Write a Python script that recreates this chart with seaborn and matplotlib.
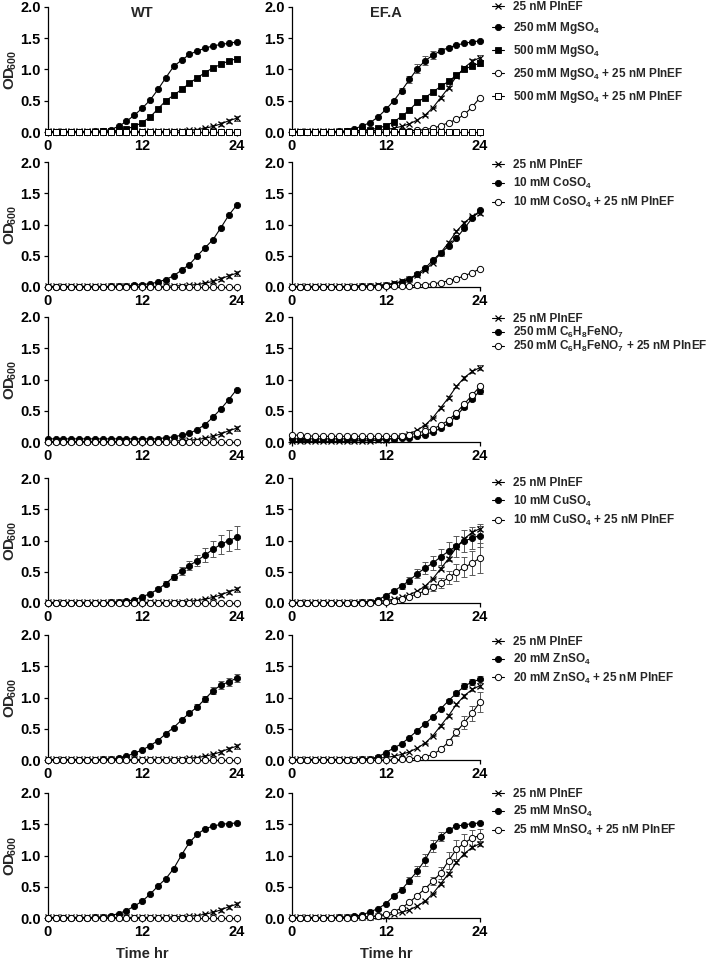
import numpy as np
import matplotlib
matplotlib.use('Agg')
import matplotlib.pyplot as plt
import seaborn as sns

# %%
# time points (hours)
time = [0, 1, 2, 3, 4, 5, 6, 7, 8, 9,
        10, 11, 12, 13, 14, 15, 16, 17, 18, 19,
        20, 21, 22, 23, 24]

# 25 nM PlnEF alone (same control in every row)
wt_plnef = [0.01, 0.01, 0.01, 0.01, 0.01, 0.01, 0.01, 0.01, 0.01, 0.01,
            0.01, 0.01, 0.01, 0.01, 0.01, 0.01, 0.02, 0.02, 0.03, 0.04,
            0.06, 0.09, 0.13, 0.18, 0.22]
wt_plnef_err = [0, 0, 0, 0, 0, 0, 0, 0, 0, 0,
                0, 0, 0, 0, 0, 0, 0, 0, 0.01, 0.01,
                0.02, 0.02, 0.03, 0.03, 0.04]
efa_plnef = [0.01, 0.01, 0.01, 0.01, 0.01, 0.01, 0.01, 0.01, 0.02, 0.02,
             0.02, 0.03, 0.04, 0.06, 0.09, 0.13, 0.19, 0.27, 0.39, 0.55,
             0.71, 0.89, 1.03, 1.13, 1.19]
efa_plnef_err = [0, 0, 0, 0, 0, 0, 0, 0, 0, 0,
                 0, 0, 0, 0, 0, 0, 0, 0.01, 0.01, 0.02,
                 0.02, 0.03, 0.03, 0.03, 0.04]

# row 1 - MgSO4
wt_mg250 = [0.00, 0.00, 0.00, 0.00, 0.00, 0.00, 0.01, 0.02, 0.04, 0.09,
            0.17, 0.27, 0.38, 0.51, 0.68, 0.87, 1.05, 1.15, 1.24, 1.30,
            1.34, 1.38, 1.40, 1.42, 1.44]
wt_mg500 = [0.00, 0.00, 0.00, 0.00, 0.00, 0.00, 0.00, 0.01, 0.02, 0.03,
            0.05, 0.09, 0.15, 0.24, 0.37, 0.50, 0.59, 0.68, 0.78, 0.87,
            0.95, 1.03, 1.08, 1.14, 1.17]
wt_mg250_pln = [0.00, 0.00, 0.00, 0.00, 0.00, 0.00, 0.00, 0.00, 0.00, 0.00,
                0.00, 0.00, 0.00, 0.00, 0.00, 0.00, 0.00, 0.00, 0.00, 0.00,
                0.00, 0.00, 0.00, 0.00, 0.00]
wt_mg500_pln = [0.00, 0.00, 0.00, 0.00, 0.00, 0.00, 0.00, 0.00, 0.00, 0.00,
                0.00, 0.00, 0.00, 0.00, 0.00, 0.00, 0.00, 0.00, 0.00, 0.00,
                0.00, 0.00, 0.00, 0.00, 0.00]
efa_mg250 = [0.00, 0.00, 0.00, 0.00, 0.00, 0.00, 0.01, 0.02, 0.05, 0.10,
             0.15, 0.24, 0.36, 0.50, 0.66, 0.84, 1.01, 1.14, 1.23, 1.30,
             1.35, 1.39, 1.42, 1.44, 1.46]
efa_mg250_err = [0, 0, 0, 0, 0, 0, 0, 0, 0, 0,
                 0, 0, 0.02, 0.03, 0.04, 0.05, 0.07, 0.07, 0.06, 0.04,
                 0.03, 0.02, 0.01, 0.01, 0.01]
efa_mg500 = [0.00, 0.00, 0.00, 0.00, 0.00, 0.00, 0.00, 0.01, 0.02, 0.03,
             0.04, 0.06, 0.10, 0.16, 0.25, 0.35, 0.48, 0.55, 0.64, 0.73,
             0.81, 0.91, 1.00, 1.06, 1.10]
efa_mg500_err = [0, 0, 0, 0, 0, 0, 0, 0, 0, 0,
                 0, 0, 0, 0, 0, 0, 0, 0, 0, 0,
                 0, 0.02, 0.03, 0.04, 0.05]
efa_mg250_pln = [0.00, 0.00, 0.00, 0.00, 0.00, 0.00, 0.00, 0.00, 0.00, 0.00,
                 0.00, 0.00, 0.00, 0.00, 0.01, 0.02, 0.03, 0.04, 0.06, 0.10,
                 0.15, 0.20, 0.28, 0.40, 0.55]
efa_mg500_pln = [0.00, 0.00, 0.00, 0.00, 0.00, 0.00, 0.00, 0.00, 0.00, 0.00,
                 0.00, 0.00, 0.00, 0.00, 0.00, 0.00, 0.00, 0.00, 0.00, 0.00,
                 0.00, 0.00, 0.00, 0.00, 0.00]

# row 2 - CoSO4
wt_co = [0.00, 0.00, 0.00, 0.00, 0.00, 0.00, 0.00, 0.00, 0.01, 0.01,
         0.02, 0.03, 0.04, 0.05, 0.08, 0.12, 0.18, 0.27, 0.36, 0.50,
         0.63, 0.76, 0.95, 1.15, 1.31]
wt_co_pln = [0.00, 0.00, 0.00, 0.00, 0.00, 0.00, 0.00, 0.00, 0.00, 0.00,
             0.00, 0.00, 0.00, 0.00, 0.00, 0.00, 0.00, 0.00, 0.00, 0.00,
             0.00, 0.00, 0.00, 0.00, 0.00]
efa_co = [0.00, 0.00, 0.00, 0.00, 0.00, 0.00, 0.00, 0.00, 0.00, 0.01,
          0.01, 0.02, 0.03, 0.05, 0.08, 0.13, 0.21, 0.30, 0.43, 0.55,
          0.65, 0.78, 0.94, 1.10, 1.23]
efa_co_pln = [0.00, 0.00, 0.00, 0.00, 0.00, 0.00, 0.00, 0.00, 0.00, 0.00,
              0.00, 0.00, 0.01, 0.01, 0.02, 0.02, 0.03, 0.04, 0.05, 0.07,
              0.10, 0.13, 0.18, 0.23, 0.29]

# row 3 - ferric ammonium citrate
wt_fe = [0.05, 0.05, 0.05, 0.05, 0.05, 0.05, 0.05, 0.05, 0.05, 0.05,
         0.05, 0.05, 0.05, 0.05, 0.05, 0.07, 0.08, 0.11, 0.14, 0.20,
         0.28, 0.40, 0.53, 0.68, 0.84]
wt_fe_pln = [0.00, 0.00, 0.00, 0.00, 0.00, 0.00, 0.00, 0.00, 0.00, 0.00,
             0.00, 0.00, 0.00, 0.00, 0.00, 0.00, 0.00, 0.00, 0.00, 0.00,
             0.00, 0.00, 0.00, 0.00, 0.00]
efa_fe = [0.05, 0.05, 0.05, 0.05, 0.05, 0.05, 0.05, 0.05, 0.05, 0.05,
          0.05, 0.05, 0.05, 0.05, 0.06, 0.07, 0.09, 0.12, 0.16, 0.22,
          0.30, 0.42, 0.56, 0.69, 0.82]
efa_fe_err = [0, 0, 0, 0, 0, 0, 0, 0, 0, 0,
              0, 0, 0, 0, 0, 0, 0, 0, 0, 0,
              0.02, 0.03, 0.03, 0.04, 0.05]
efa_fe_pln = [0.11, 0.11, 0.10, 0.09, 0.09, 0.09, 0.09, 0.09, 0.09, 0.09,
              0.09, 0.09, 0.09, 0.09, 0.10, 0.12, 0.14, 0.18, 0.21, 0.27,
              0.35, 0.47, 0.61, 0.75, 0.89]
efa_fe_pln_err = [0, 0, 0, 0, 0, 0, 0, 0, 0, 0,
                  0, 0, 0, 0, 0, 0, 0, 0, 0, 0,
                  0, 0, 0.02, 0.03, 0.03]

# row 4 - CuSO4
wt_cu = [0.00, 0.00, 0.00, 0.00, 0.00, 0.00, 0.00, 0.00, 0.01, 0.02,
         0.03, 0.05, 0.10, 0.15, 0.22, 0.31, 0.42, 0.51, 0.60, 0.68,
         0.77, 0.86, 0.94, 1.00, 1.05]
wt_cu_err = [0, 0, 0, 0, 0, 0, 0, 0, 0, 0,
             0, 0, 0.01, 0.02, 0.03, 0.04, 0.05, 0.06, 0.07, 0.09,
             0.11, 0.13, 0.15, 0.17, 0.18]
wt_cu_pln = [0.00, 0.00, 0.00, 0.00, 0.00, 0.00, 0.00, 0.00, 0.00, 0.00,
             0.00, 0.00, 0.00, 0.00, 0.00, 0.00, 0.00, 0.00, 0.00, 0.00,
             0.00, 0.00, 0.00, 0.00, 0.00]
efa_cu = [0.00, 0.00, 0.00, 0.00, 0.00, 0.00, 0.00, 0.00, 0.00, 0.01,
          0.02, 0.05, 0.12, 0.19, 0.27, 0.36, 0.47, 0.56, 0.64, 0.74,
          0.83, 0.91, 0.99, 1.04, 1.08]
efa_cu_err = [0, 0, 0, 0, 0, 0, 0, 0, 0, 0,
              0, 0, 0.02, 0.03, 0.04, 0.05, 0.07, 0.09, 0.11, 0.13,
              0.15, 0.17, 0.18, 0.18, 0.18]
efa_cu_pln = [0.00, 0.00, 0.00, 0.00, 0.00, 0.00, 0.00, 0.00, 0.00, 0.00,
              0.00, 0.01, 0.02, 0.04, 0.07, 0.10, 0.15, 0.19, 0.25, 0.32,
              0.41, 0.49, 0.57, 0.64, 0.72]
efa_cu_pln_err = [0, 0, 0, 0, 0, 0, 0, 0, 0, 0,
                  0, 0, 0, 0, 0, 0.02, 0.03, 0.04, 0.06, 0.08,
                  0.10, 0.13, 0.16, 0.19, 0.24]

# row 5 - ZnSO4
wt_zn = [0.00, 0.00, 0.00, 0.00, 0.00, 0.00, 0.00, 0.01, 0.02, 0.03,
         0.06, 0.11, 0.16, 0.23, 0.31, 0.42, 0.52, 0.64, 0.75, 0.85,
         0.98, 1.11, 1.20, 1.25, 1.31]
wt_zn_err = [0, 0, 0, 0, 0, 0, 0, 0, 0, 0,
             0, 0, 0, 0, 0, 0, 0, 0.01, 0.03, 0.04,
             0.05, 0.06, 0.06, 0.06, 0.06]
wt_zn_pln = [0.00, 0.00, 0.00, 0.00, 0.00, 0.00, 0.00, 0.00, 0.00, 0.00,
             0.00, 0.00, 0.00, 0.00, 0.00, 0.00, 0.00, 0.00, 0.00, 0.00,
             0.00, 0.00, 0.00, 0.00, 0.00]
efa_zn = [0.00, 0.00, 0.00, 0.00, 0.00, 0.00, 0.00, 0.00, 0.00, 0.01,
          0.02, 0.05, 0.12, 0.19, 0.26, 0.36, 0.47, 0.58, 0.69, 0.82,
          0.95, 1.07, 1.18, 1.25, 1.29]
efa_zn_err = [0, 0, 0, 0, 0, 0, 0, 0, 0, 0,
              0, 0, 0, 0, 0, 0, 0, 0, 0, 0.02,
              0.03, 0.04, 0.05, 0.05, 0.06]
efa_zn_pln = [0.00, 0.00, 0.00, 0.00, 0.00, 0.00, 0.00, 0.00, 0.00, 0.00,
              0.00, 0.00, 0.00, 0.00, 0.01, 0.02, 0.03, 0.05, 0.09, 0.17,
              0.29, 0.45, 0.60, 0.75, 0.93]
efa_zn_pln_err = [0, 0, 0, 0, 0, 0, 0, 0, 0, 0,
                  0, 0, 0, 0, 0, 0, 0, 0, 0.02, 0.03,
                  0.05, 0.07, 0.10, 0.12, 0.16]

# row 6 - MnSO4
wt_mn = [0.00, 0.00, 0.00, 0.00, 0.00, 0.00, 0.01, 0.02, 0.04, 0.07,
         0.12, 0.19, 0.27, 0.38, 0.51, 0.63, 0.79, 1.01, 1.21, 1.34,
         1.43, 1.47, 1.50, 1.51, 1.52]
wt_mn_pln = [0.00, 0.00, 0.00, 0.00, 0.00, 0.00, 0.00, 0.00, 0.00, 0.00,
             0.00, 0.00, 0.00, 0.00, 0.00, 0.00, 0.00, 0.00, 0.00, 0.00,
             0.00, 0.00, 0.00, 0.00, 0.00]
efa_mn = [0.00, 0.00, 0.00, 0.00, 0.00, 0.00, 0.01, 0.02, 0.03, 0.05,
          0.10, 0.15, 0.23, 0.35, 0.45, 0.60, 0.75, 0.93, 1.15, 1.30,
          1.41, 1.47, 1.49, 1.51, 1.52]
efa_mn_err = [0, 0, 0, 0, 0, 0, 0, 0, 0, 0,
              0, 0, 0, 0.03, 0.04, 0.06, 0.08, 0.10, 0.10, 0.07,
              0.03, 0.02, 0.01, 0.01, 0.01]
efa_mn_pln = [0.00, 0.00, 0.00, 0.00, 0.00, 0.00, 0.00, 0.00, 0.00, 0.01,
              0.02, 0.04, 0.06, 0.10, 0.16, 0.25, 0.36, 0.47, 0.59, 0.72,
              0.92, 1.10, 1.20, 1.28, 1.32]
efa_mn_pln_err = [0, 0, 0, 0, 0, 0, 0, 0, 0, 0,
                  0, 0, 0, 0, 0, 0, 0.03, 0.04, 0.06, 0.10,
                  0.14, 0.15, 0.14, 0.13, 0.11]

# legend labels
row1_labels = ['25 nM PlnEF', '250 mM MgSO$_4$', '500 mM MgSO$_4$',
               '250 mM MgSO$_4$ + 25 nM PlnEF', '500 mM MgSO$_4$ + 25 nM PlnEF']
row2_labels = ['25 nM PlnEF', '10 mM CoSO$_4$', '10 mM CoSO$_4$ + 25 nM PlnEF']
row3_labels = ['25 nM PlnEF', '250 mM C$_6$H$_8$FeNO$_7$',
               '250 mM C$_6$H$_8$FeNO$_7$ + 25 nM PlnEF']
row4_labels = ['25 nM PlnEF', '10 mM CuSO$_4$', '10 mM CuSO$_4$ + 25 nM PlnEF']
row5_labels = ['25 nM PlnEF', '20 mM ZnSO$_4$', '20 mM ZnSO$_4$ + 25 nM PlnEF']
row6_labels = ['25 nM PlnEF', '25 mM MnSO$_4$', '25 mM MnSO$_4$ + 25 nM PlnEF']

yticks = [0, 0.5, 1.0, 1.5, 2.0]
yticklabels = ['0.0', '0.5', '1.0', '1.5', '2.0']
xticks = [0, 12, 24]

# %%
sns.set_style('ticks')
plt.rcParams['font.family'] = ['Liberation Sans', 'DejaVu Sans']
plt.rcParams['font.weight'] = 'bold'
plt.rcParams['axes.labelweight'] = 'bold'
plt.rcParams['mathtext.fontset'] = 'custom'
plt.rcParams['mathtext.rm'] = 'Liberation Sans:bold'
plt.rcParams['mathtext.it'] = 'Liberation Sans:bold'
plt.rcParams['mathtext.bf'] = 'Liberation Sans:bold'

styles = {
    'x': dict(marker='x', markersize=4, mew=0.9, mfc='k', mec='k'),
    'fo': dict(marker='o', markersize=4.5, mew=0.6, mfc='k', mec='k'),
    'fs': dict(marker='s', markersize=4, mew=0.6, mfc='k', mec='k'),
    'oo': dict(marker='o', markersize=4.5, mew=0.7, mfc='white', mec='k'),
    'os': dict(marker='s', markersize=4, mew=0.7, mfc='white', mec='k'),
}

# (marker style, WT values, WT err, EF.A values, EF.A err)
rows = [
    dict(series=[('x', wt_plnef, wt_plnef_err, efa_plnef, efa_plnef_err),
                 ('fo', wt_mg250, None, efa_mg250, efa_mg250_err),
                 ('fs', wt_mg500, None, efa_mg500, efa_mg500_err),
                 ('oo', wt_mg250_pln, None, efa_mg250_pln, None),
                 ('os', wt_mg500_pln, None, efa_mg500_pln, None)],
         labels=row1_labels, spacing=0.6, leg_y=1.05),
    dict(series=[('x', wt_plnef, wt_plnef_err, efa_plnef, efa_plnef_err),
                 ('fo', wt_co, None, efa_co, None),
                 ('oo', wt_co_pln, None, efa_co_pln, None)],
         labels=row2_labels, spacing=0.35, leg_y=1.02),
    dict(series=[('x', wt_plnef, wt_plnef_err, efa_plnef, efa_plnef_err),
                 ('fo', wt_fe, None, efa_fe, efa_fe_err),
                 ('oo', wt_fe_pln, None, efa_fe_pln, efa_fe_pln_err)],
         labels=row3_labels, spacing=-0.05, leg_y=1.03),
    dict(series=[('x', wt_plnef, wt_plnef_err, efa_plnef, efa_plnef_err),
                 ('fo', wt_cu, wt_cu_err, efa_cu, efa_cu_err),
                 ('oo', wt_cu_pln, None, efa_cu_pln, efa_cu_pln_err)],
         labels=row4_labels, spacing=0.4, leg_y=1.01),
    dict(series=[('x', wt_plnef, wt_plnef_err, efa_plnef, efa_plnef_err),
                 ('fo', wt_zn, wt_zn_err, efa_zn, efa_zn_err),
                 ('oo', wt_zn_pln, None, efa_zn_pln, efa_zn_pln_err)],
         labels=row5_labels, spacing=0.3, leg_y=0.99),
    dict(series=[('x', wt_plnef, wt_plnef_err, efa_plnef, efa_plnef_err),
                 ('fo', wt_mn, None, efa_mn, efa_mn_err),
                 ('oo', wt_mn_pln, None, efa_mn_pln, efa_mn_pln_err)],
         labels=row6_labels, spacing=0.35, leg_y=1.04),
]

W, H = 709, 960
row_tops = [7, 162, 317, 478, 635, 793]
ax_h = 125
col_left = [47.7, 291.7]
col_w = [189, 188.3]

fig = plt.figure(figsize=(W / 100, H / 100), dpi=100)
t = np.array(time)

for r, row in enumerate(rows):
    bottom = 1 - (row_tops[r] + ax_h) / H
    for c in range(2):
        ax = fig.add_axes([col_left[c] / W, bottom, col_w[c] / W, ax_h / H])
        for i, s in enumerate(row['series']):
            style = s[0]
            vals = s[1] if c == 0 else s[3]
            errs = s[2] if c == 0 else s[4]
            if errs is not None:
                e = np.array(errs)
                m = e > 0
                ax.errorbar(t[m], np.array(vals)[m], yerr=e[m], fmt='none',
                            ecolor='0.35', elinewidth=0.7, capsize=2,
                            capthick=0.7, zorder=2, clip_on=False)
            sns.lineplot(x=time, y=vals, ax=ax, color='k', linewidth=0.8,
                         errorbar=None, legend=False, clip_on=False,
                         zorder=3 + i * 0.1,
                         label=row['labels'][i] if c == 1 else None,
                         **styles[style])

        ax.set_xlim(0, 24)
        ax.set_ylim(0, 2)
        ax.set_xticks(xticks)
        ax.set_yticks(yticks)
        ax.set_yticklabels(yticklabels)
        ax.tick_params(direction='out', length=3, width=0.9, labelsize=10.5,
                       pad=2, colors='k')
        sns.despine(ax=ax)
        for sp in ['left', 'bottom']:
            ax.spines[sp].set_linewidth(0.9)
            ax.spines[sp].set_color('k')
        ax.set_xlabel('')
        ax.set_ylabel('')

        if c == 0:
            ax.set_ylabel(r'OD$\!_{600}$', fontsize=11)
            ax.yaxis.set_label_coords(-0.15, 0.5)
        else:
            handles, labels = ax.get_legend_handles_labels()
            ax.legend(handles, labels, loc='upper left',
                      bbox_to_anchor=(1.064, row['leg_y']), frameon=False,
                      fontsize=8.5, handlelength=1.0, handletextpad=0.8,
                      labelspacing=row['spacing'], borderpad=0,
                      borderaxespad=0)

        if r == 0:
            ax.text(0.5, 0.955, 'WT' if c == 0 else 'EF.A',
                    transform=ax.transAxes, ha='center', va='center',
                    fontsize=10.5, fontweight='bold')
        if r == len(rows) - 1:
            ax.set_xlabel('Time hr', fontsize=10.5)
            ax.xaxis.set_label_coords(0.5, -0.23)

fig.savefig('out.png', dpi=100)
